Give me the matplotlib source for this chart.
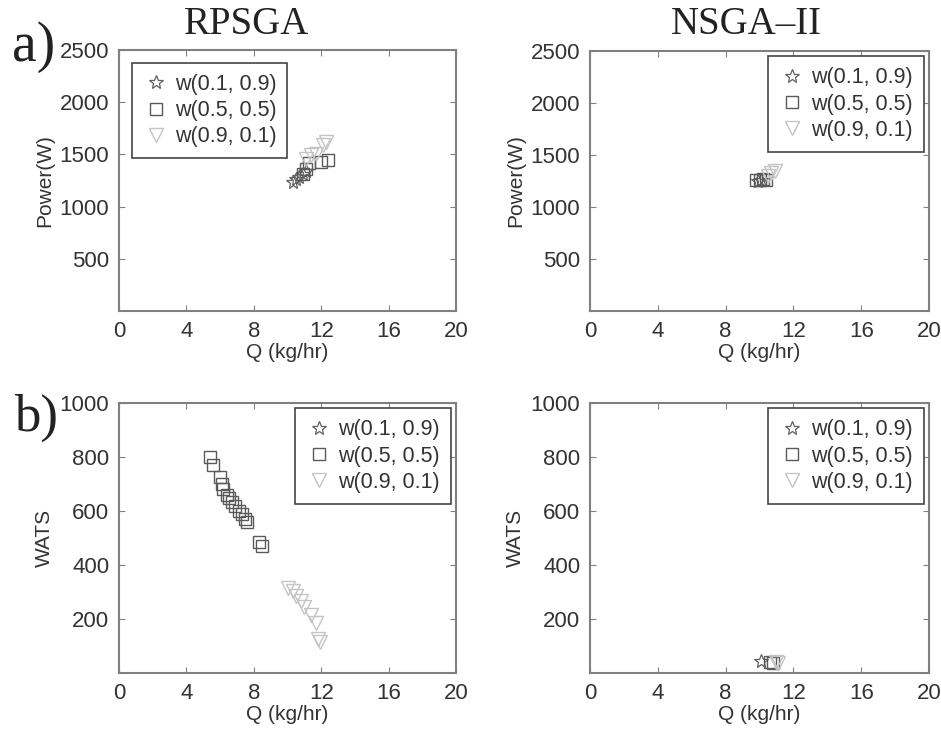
import matplotlib
matplotlib.use("Agg")
import matplotlib.pyplot as plt

plt.rcParams['font.family'] = ['Liberation Sans', 'DejaVu Sans']

W, H = 941, 732

xticks = [0, 4, 8, 12, 16, 20]
power_ticks = [500, 1000, 1500, 2000, 2500]
wats_ticks = [200, 400, 600, 800, 1000]
legend_labels = ['w(0.1, 0.9)', 'w(0.5, 0.5)', 'w(0.9, 0.1)']
col_titles = ['RPSGA', 'NSGA\u2013II']
row_labels = ['a)', 'b)']

# RPSGA - Power
rp_star_q = [10.3, 10.5, 10.7, 10.9, 11.1]
rp_star_p = [1240, 1260, 1285, 1310, 1340]
rp_sq_q = [10.9, 11.1, 11.3, 12.0, 12.4]
rp_sq_p = [1310, 1360, 1420, 1430, 1450]
rp_tri_q = [11.1, 11.4, 11.7, 12.1, 12.3]
rp_tri_p = [1460, 1490, 1500, 1590, 1620]

# NSGA-II - Power
ns_star_q = [9.9, 10.1]
ns_star_p = [1250, 1260]
ns_sq_q = [9.8, 10.0, 10.2, 10.4]
ns_sq_p = [1260, 1255, 1265, 1260]
ns_tri_q = [10.5, 10.7, 10.9]
ns_tri_p = [1300, 1330, 1350]

# RPSGA - WATS
rw_star_q = []
rw_star_w = []
rw_sq_q = [5.4, 5.6, 6.0, 6.1, 6.2, 6.4, 6.5, 6.7, 6.9, 7.1, 7.3, 7.5, 7.6, 8.3, 8.5]
rw_sq_w = [800, 770, 725, 700, 680, 660, 650, 635, 620, 600, 590, 570, 560, 485, 470]
rw_tri_q = [10.0, 10.3, 10.5, 10.8, 11.0, 11.4, 11.7, 11.8, 11.9]
rw_tri_w = [315, 305, 285, 265, 245, 215, 185, 125, 115]

# NSGA-II - WATS
nw_star_q = [10.1]
nw_star_w = [45]
nw_sq_q = [10.6, 10.8]
nw_sq_w = [40, 38]
nw_tri_q = [11.0, 11.1]
nw_tri_w = [40, 38]

fig = plt.figure(figsize=(W / 100, H / 100), dpi=100)

def ax_px(l, t, r, b):
    return fig.add_axes([l / W, 1 - b / H, (r - l) / W, (b - t) / H])

spine_c = '#808080'
txt_c = '#333333'
star_c = '#606060'
sq_c = '#5a5a5a'
tri_c = '#c4c4c4'

panels = [
    (ax_px(119, 50, 456, 311), (rp_star_q, rp_star_p), (rp_sq_q, rp_sq_p), (rp_tri_q, rp_tri_p),
     (0, 2500), power_ticks, 'Power(W)', 'upper left', 0.6),
    (ax_px(590, 51, 929, 311), (ns_star_q, ns_star_p), (ns_sq_q, ns_sq_p), (ns_tri_q, ns_tri_p),
     (0, 2500), power_ticks, 'Power(W)', 'upper right', 0.25),
    (ax_px(119, 403, 456, 673), (rw_star_q, rw_star_w), (rw_sq_q, rw_sq_w), (rw_tri_q, rw_tri_w),
     (0, 1000), wats_ticks, 'WATS', 'upper right', 0.25),
    (ax_px(590, 403, 929, 673), (nw_star_q, nw_star_w), (nw_sq_q, nw_sq_w), (nw_tri_q, nw_tri_w),
     (0, 1000), wats_ticks, 'WATS', 'upper right', 0.25),
]

for ax, st, sq, tr, ylim, yt, ylab, loc, bap in panels:
    h1, = ax.plot(st[0], st[1], linestyle='none', marker='*', markersize=10,
                  markerfacecolor='none', markeredgecolor=star_c, markeredgewidth=0.9)
    h2, = ax.plot(sq[0], sq[1], linestyle='none', marker='s', markersize=9,
                  markerfacecolor='none', markeredgecolor=sq_c, markeredgewidth=1.0)
    h3, = ax.plot(tr[0], tr[1], linestyle='none', marker='v', markersize=10,
                  markerfacecolor='none', markeredgecolor=tri_c, markeredgewidth=1.0)
    ax.set_xlim(0, 20)
    ax.set_ylim(*ylim)
    ax.set_xticks(xticks)
    ax.set_yticks(yt)
    ax.tick_params(direction='in', top=True, right=True, length=4, color=spine_c,
                   labelsize=16, labelcolor=txt_c, pad=7)
    for s in ax.spines.values():
        s.set_color(spine_c)
        s.set_linewidth(1.5)
    ax.set_xlabel('Q (kg/hr)', fontsize=15, color=txt_c, labelpad=1)
    ax.set_ylabel(ylab, fontsize=15, color=txt_c, labelpad=4)
    leg = ax.legend([h1, h2, h3], legend_labels, loc=loc, fontsize=15.5, fancybox=False,
                    framealpha=1, edgecolor='#444444', handletextpad=0.3,
                    handlelength=1.2, borderpad=0.5, labelspacing=0.25,
                    borderaxespad=bap)
    leg.get_frame().set_linewidth(1.2)
    for t in leg.get_texts():
        t.set_color(txt_c)

fig.text(246 / W, 1 - 24 / H, col_titles[0], family='Liberation Serif', fontsize=28,
         ha='center', va='center', color='#222222')
fig.text(746 / W, 1 - 24 / H, col_titles[1], family='Liberation Serif', fontsize=28,
         ha='center', va='center', color='#222222')
fig.text(34 / W, 1 - 47 / H, row_labels[0], family='Liberation Serif', fontsize=40,
         ha='center', va='center', color='#222222')
fig.text(36 / W, 1 - 418 / H, row_labels[1], family='Liberation Serif', fontsize=38,
         ha='center', va='center', color='#222222')

fig.savefig('out.png', dpi=100)
